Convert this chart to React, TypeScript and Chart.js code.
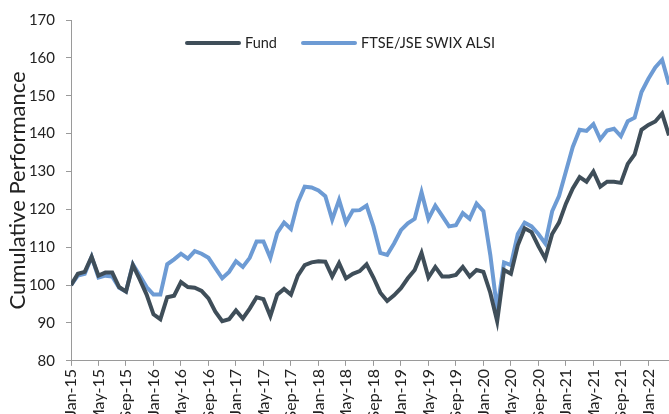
import React, { useEffect, useRef } from "react";
import { Chart, registerables } from "chart.js";

Chart.register(...registerables);

const monthNames = ["Jan", "Feb", "Mar", "Apr", "May", "Jun", "Jul", "Aug", "Sep", "Oct", "Nov", "Dec"];
const years = [15, 16, 17, 18, 19, 20, 21, 22];
const months: string[] = [];
for (const y of years) for (const m of monthNames) months.push(`${m}-${y}`);
const categories = months.slice(0, 88); // Jan-15 .. Apr-22

const fund = [
  100, 103, 103.5, 107.5, 102.5, 103.3, 103.3, 99.5, 98.3, 105.3, 101.5, 97.5,
  92.3, 91, 96.8, 97.2, 100.8, 99.5, 99.3, 98.5, 96.5, 93, 90.5, 91,
  93.3, 91.2, 93.8, 96.8, 96.3, 91.8, 97.5, 99, 97.5, 102.5, 105.3, 106,
  106.3, 106.2, 102.3, 105.8, 101.8, 103, 103.7, 105.5, 102, 98, 95.8, 97.3,
  99.2, 101.8, 104, 108.5, 102, 104.8, 102.3, 102.3, 102.7, 104.8, 102.3, 104,
  103.5, 98, 90.5, 104, 103, 110.5, 115, 114, 110.3, 107, 113.5, 116.5,
  121.5, 125.5, 128.5, 127.3, 130, 126, 127.3, 127.3, 127, 132, 134.5, 141,
  142.3, 143.2, 145.3, 139.5,
];

const alsi = [
  100, 102.5, 103, 107.5, 102, 102.5, 102.3, 99.3, 98.3, 105.5, 102.5, 99.5,
  97.5, 97.5, 105.5, 106.8, 108.3, 107, 109, 108.3, 107.2, 104.5, 101.8, 103.5,
  106.3, 104.8, 107.2, 111.5, 111.5, 107.2, 113.8, 116.5, 114.8, 121.8, 126, 125.8,
  125, 123.5, 117.3, 122.5, 116.5, 119.7, 119.8, 121, 115.5, 108.5, 108, 111,
  114.5, 116.3, 117.5, 124.5, 117.5, 121, 118.3, 115.5, 115.8, 119, 117.5, 121.5,
  119.5, 108, 93.5, 106, 105.3, 113.5, 116.5, 115.5, 113.5, 111, 119.5, 123.5,
  130, 136.5, 141, 140.7, 142.5, 138.5, 140.8, 141.3, 139.3, 143.3, 144.2, 151,
  154.5, 157.5, 159.5, 153,
];

const seriesNames = ["Fund", "FTSE/JSE SWIX ALSI"];
const seriesColors = ["#3F4E59", "#6D9BD4"];
const yTicks = { min: 80, max: 170, step: 10 };
const labelEvery = 4;

const FONT = "Lato, 'Open Sans', sans-serif";

const legendPlugin = {
  id: "insideLegend",
  afterDraw(chart: any) {
    const ctx = chart.ctx;
    const area = chart.chartArea;
    const y = area.top + 23;
    const items = [
      { x: 187, text: seriesNames[0], color: seriesColors[0] },
      { x: 303, text: seriesNames[1], color: seriesColors[1] },
    ];
    ctx.save();
    ctx.font = `14.5px ${FONT}`;
    ctx.textBaseline = "middle";
    for (const it of items) {
      ctx.strokeStyle = it.color;
      ctx.lineWidth = 4;
      ctx.lineCap = "round";
      ctx.beginPath();
      ctx.moveTo(it.x, y);
      ctx.lineTo(it.x + 52, y);
      ctx.stroke();
      ctx.fillStyle = "#222";
      ctx.fillText(it.text, it.x + 58, y);
    }
    ctx.restore();
  },
};

export default function App() {
  const ref = useRef<HTMLCanvasElement>(null);
  useEffect(() => {
    document.body.style.margin = "0";
    const mk = (arr: number[]) => arr.map((v, i) => ({ x: i, y: v }));
    const chart = new Chart(ref.current!, {
      type: "line",
      data: {
        datasets: [
          {
            label: seriesNames[0],
            data: mk(fund),
            borderColor: seriesColors[0],
            borderWidth: 4,
            pointRadius: 0,
            tension: 0,
          },
          {
            label: seriesNames[1],
            data: mk(alsi),
            borderColor: seriesColors[1],
            borderWidth: 4,
            pointRadius: 0,
            tension: 0,
          },
        ],
      },
      options: {
        animation: false,
        responsive: false,
        layout: { padding: { top: 17, right: 0, left: 7, bottom: 13 } },
        plugins: { legend: { display: false }, tooltip: { enabled: false } },
        scales: {
          x: {
            type: "linear",
            min: 0,
            max: categories.length - 1,
            afterFit: (scale: any) => {
              scale.paddingLeft = 0;
              scale.paddingRight = 0;
            },
            grid: { drawOnChartArea: false, drawTicks: true, tickLength: 5, color: "#9A9A9A" },
            border: { display: true, color: "#9A9A9A" },
            ticks: {
              stepSize: labelEvery,
              includeBounds: false,
              autoSkip: false,
              maxRotation: 90,
              minRotation: 90,
              color: "#222",
              font: { size: 16, family: FONT },
              padding: 3,
              callback: (v: any) => categories[Number(v)] ?? "",
            },
          },
          y: {
            min: yTicks.min,
            max: yTicks.max,
            afterFit: (scale: any) => {
              scale.width = 64;
            },
            grid: { drawOnChartArea: false, drawTicks: true, tickLength: 5, color: "#9A9A9A" },
            border: { display: true, color: "#9A9A9A" },
            ticks: {
              stepSize: yTicks.step,
              color: "#222",
              font: { size: 15, family: FONT },
              padding: 11,
            },
            title: {
              display: true,
              text: "Cumulative Performance",
              color: "#222",
              font: { size: 22, family: FONT, lineHeight: 1 },
              padding: { top: 0, bottom: 2 },
            },
          },
        },
      },
      plugins: [legendPlugin],
    });
    return () => chart.destroy();
  }, []);
  return (
    <div style={{ position: "fixed", left: 0, top: 0, width: 669, height: 414, overflow: "hidden", background: "#fff" }}>
      <canvas ref={ref} width={669} height={440} />
    </div>
  );
}
